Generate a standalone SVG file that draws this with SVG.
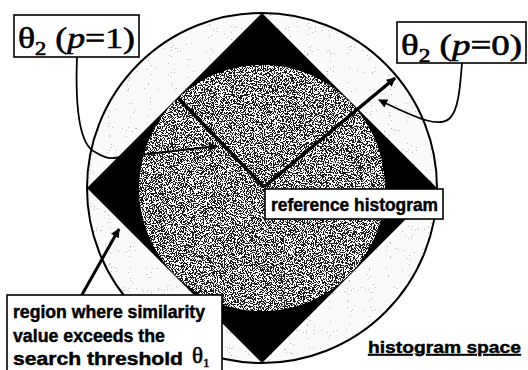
<svg xmlns="http://www.w3.org/2000/svg" width="528" height="370" viewBox="0 0 528 370">
<style>
.box{fill:#fff;stroke:#000;stroke-width:1.6}
.lead{fill:none;stroke:#000;stroke-width:1.8}
.rad{fill:none;stroke:#000;stroke-width:3.5}
.serif{font-family:"Liberation Serif","Times New Roman",serif;fill:#000;stroke:#000;stroke-width:0.6}
.sans{font-family:"Liberation Sans",Arial,sans-serif;font-weight:bold;fill:#000;stroke:#000;stroke-width:0.45}
</style>
<defs>
<marker id="ah" viewBox="0 0 10 10" refX="9" refY="5" markerWidth="11" markerHeight="9" markerUnits="userSpaceOnUse" orient="auto"><path d="M0,0 L10,5 L0,10 z" fill="#000"/></marker>
<marker id="ahb" viewBox="0 0 10 10" refX="9" refY="5" markerWidth="13" markerHeight="9" markerUnits="userSpaceOnUse" orient="auto"><path d="M0,0 L10,5 L0,10 z" fill="#000"/></marker>
<filter id="lightSpeck" x="0" y="0" width="1" height="1">
<feTurbulence type="fractalNoise" baseFrequency="0.95" numOctaves="1" seed="4" result="t"/>
<feColorMatrix in="t" type="matrix" values="0 0 0 0 0.5 0 0 0 0 0.5 0 0 0 0 0.5 1 0 0 0 0" result="g"/>
<feComponentTransfer in="g" result="g2"><feFuncA type="discrete" tableValues="0 0 0 0 0 0 0 0 0 0 0 0 0 0 0 0 0 0 1 1 1 1 1 1 1"/></feComponentTransfer>
<feComposite in="g2" in2="SourceAlpha" operator="in" result="spk"/>
<feMerge><feMergeNode in="SourceGraphic"/><feMergeNode in="spk"/></feMerge>
</filter>
<filter id="darkSpeck" x="0" y="0" width="1" height="1">
<feTurbulence type="fractalNoise" baseFrequency="0.9" numOctaves="2" seed="9" result="t"/>
<feColorMatrix in="t" type="matrix" values="0 0 0 0 1 0 0 0 0 1 0 0 0 0 1 1 0 0 0 0" result="w"/>
<feComponentTransfer in="w" result="w2"><feFuncA type="discrete" tableValues="0 0 0 0 0 1 1 1 1 1"/></feComponentTransfer>
<feComposite in="w2" in2="SourceAlpha" operator="in" result="spk"/>
<feMerge><feMergeNode in="SourceGraphic"/><feMergeNode in="spk"/></feMerge>
</filter>
</defs>
<rect width="528" height="370" fill="#fff"/>
<g id="histogram-space">
<circle cx="262" cy="188" r="175" fill="#fafafa" filter="url(#lightSpeck)"/>
<circle cx="262" cy="188" r="175" fill="none" stroke="#000" stroke-width="2"/>
</g>
<g id="diamond">
<polygon points="262,13 437,188 262,363 87,188" fill="#000"/>
</g>
<g id="inner-region">
<circle cx="262" cy="188" r="123" fill="#1a1a1a" filter="url(#darkSpeck)"/>
</g>
<g id="connectors">
<line class="rad" x1="264" y1="187" x2="178" y2="98"/>
<line class="rad" x1="264" y1="187" x2="395" y2="78" marker-end="url(#ah)"/>
<path class="lead" d="M77,57 C75,110 80,145 95,152 C103,157 108,159 114,158 L217,146" marker-end="url(#ah)"/>
<path class="lead" d="M462,63 C460,90 458,110 450,118 C440,128 420,120 379,100" marker-end="url(#ah)"/>
<line x1="79" y1="300" x2="119" y2="229" stroke="#000" stroke-width="3" marker-end="url(#ahb)"/>
</g>
<g id="label-p1">
<rect class="box" x="14" y="15" width="125" height="42"/>
<text class="serif" x="18" y="48" font-size="30" textLength="117" lengthAdjust="spacingAndGlyphs">θ<tspan font-size="19" dy="7">2</tspan><tspan dy="-7"> (</tspan><tspan font-style="italic">p</tspan>=1)</text>
</g>
<g id="label-p0">
<rect class="box" x="397" y="22" width="129" height="41"/>
<text class="serif" x="401" y="55" font-size="30" textLength="121" lengthAdjust="spacingAndGlyphs">θ<tspan font-size="19" dy="7">2</tspan><tspan dy="-7"> (</tspan><tspan font-style="italic">p</tspan>=0)</text>
</g>
<g id="label-reference">
<rect class="box" x="265" y="189" width="178" height="30"/>
<text class="sans" x="271" y="211" font-size="18" textLength="167" lengthAdjust="spacingAndGlyphs">reference histogram</text>
</g>
<g id="label-region">
<rect class="box" x="7" y="295" width="215" height="80"/>
<text class="sans" x="13" y="318" font-size="18" textLength="192" lengthAdjust="spacingAndGlyphs">region where similarity</text>
<text class="sans" x="13" y="342" font-size="18" textLength="152" lengthAdjust="spacingAndGlyphs">value exceeds the</text>
<text class="sans" x="13" y="365" font-size="18" textLength="170" lengthAdjust="spacingAndGlyphs">search threshold</text>
<text class="serif" x="192" y="363" font-size="23">θ<tspan font-size="13" dy="4">1</tspan></text>
</g>
<g id="label-space">
<text class="sans" x="368" y="353" font-size="17" text-decoration="underline" textLength="153" lengthAdjust="spacingAndGlyphs">histogram space</text>
</g>
</svg>
